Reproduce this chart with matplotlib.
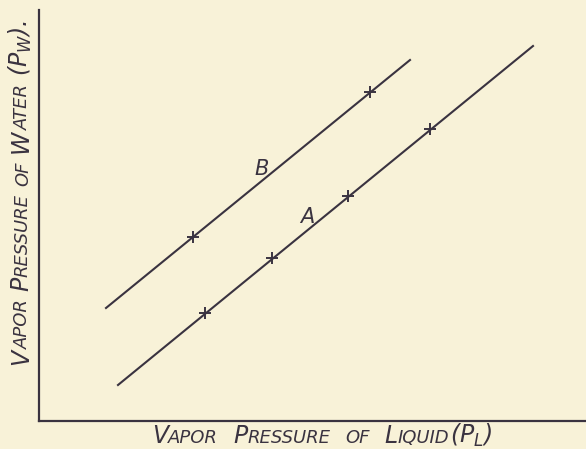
import numpy as np
import matplotlib
matplotlib.use('Agg')
import matplotlib.pyplot as plt
from matplotlib.transforms import IdentityTransform

# values (arbitrary units, origin at the axes corner)
line_a_x = [79, 494]
line_a_y = [36, 375]
points_a_x = [166, 233, 309, 391]
points_a_y = [108, 163, 225, 292]

line_b_x = [67, 371]
line_b_y = [113, 361]
points_b_x = [154, 331]
points_b_y = [184, 329]

line_labels = ['A', 'B']
label_x = [268, 223]
label_y = [204, 252]

paper = '#f8f2d8'
ink = '#3a3340'

fig = plt.figure(figsize=(5.86, 4.49), dpi=100, facecolor=paper)
ax = fig.add_axes([39 / 586, 28 / 449, 547 / 586, 411 / 449])
ax.set_facecolor('none')
ax.set_xlim(0, 547)
ax.set_ylim(0, 411)
for side in ['top', 'right']:
    ax.spines[side].set_visible(False)
for side in ['left', 'bottom']:
    ax.spines[side].set_color(ink)
    ax.spines[side].set_linewidth(1.6)
ax.set_xticks([])
ax.set_yticks([])

ax.plot(line_a_x, line_a_y, color=ink, lw=1.5)
ax.plot(line_b_x, line_b_y, color=ink, lw=1.5)
ax.plot(points_a_x, points_a_y, '+', color=ink, ms=9, mew=1.4)
ax.plot(points_b_x, points_b_y, '+', color=ink, ms=9, mew=1.4)

for s, x, y in zip(line_labels, label_x, label_y):
    ax.text(x, y, s, fontsize=15, style='italic', color=ink,
            ha='center', va='center')


def caps_text(x, y, words, angle, gap=9):
    # hand-lettered small caps: each piece laid along one baseline
    r = fig.canvas.get_renderer()
    rad = np.deg2rad(angle)
    d = 0.0
    for word in words:
        for s, size in word:
            t = fig.text(x + d * np.cos(rad), y + d * np.sin(rad), s,
                         fontsize=size, style='italic', color=ink,
                         ha='left', va='baseline', rotation_mode='anchor',
                         transform=IdentityTransform())
            d += t.get_window_extent(r).width
            t.set_rotation(angle)
        d += gap


big, small = 17, 13
caps_text(152, 6, [[('V', big), ('APOR', small)],
                   [('P', big), ('RESSURE', small)],
                   [('OF', small)],
                   [('L', big), ('IQUID', small), (r'($P_{L}$)', big)]], 0,
          gap=15)
caps_text(28, 84, [[('V', big), ('APOR', small)],
                   [('P', big), ('RESSURE', small)],
                   [('OF', small)],
                   [('W', big), ('ATER', small)],
                   [(r'($P_{W}$).', big)]], 90, gap=8)

fig.savefig('out.png', dpi=100, facecolor=paper)
